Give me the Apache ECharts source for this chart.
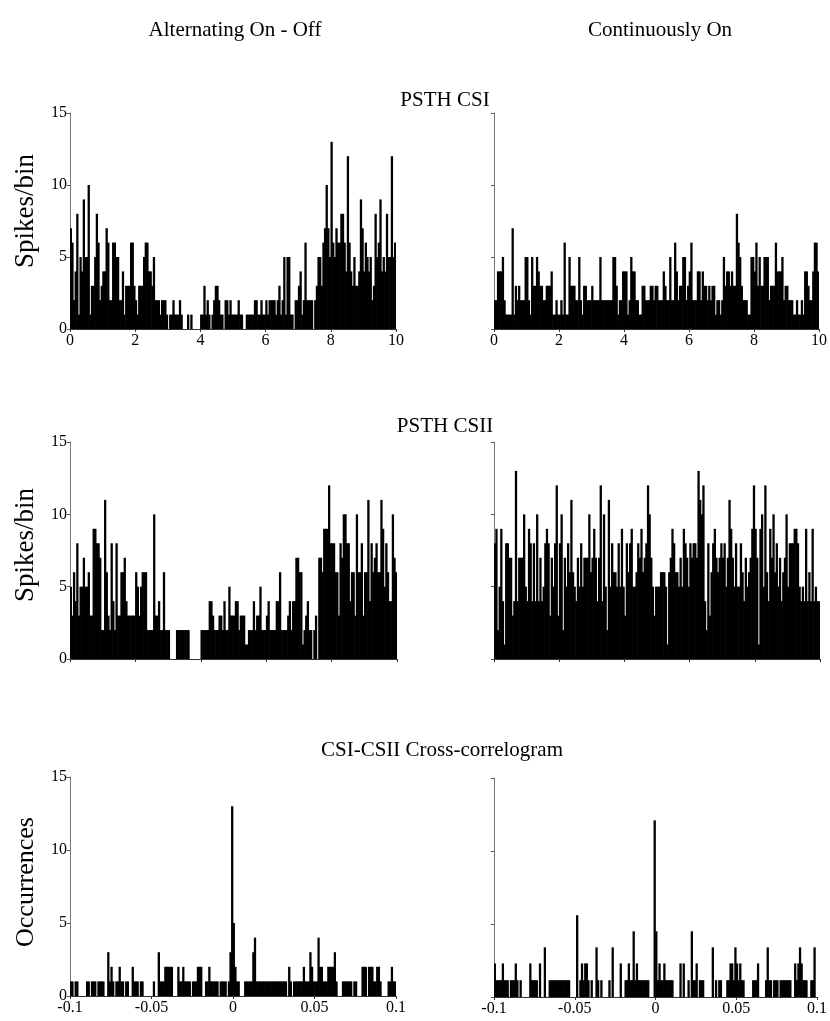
<!DOCTYPE html>
<html><head><meta charset="utf-8">
<script src="https://cdn.jsdelivr.net/npm/echarts@6/dist/echarts.min.js"></script>
<style>html,body{margin:0;padding:0;background:#fff}#c{width:830px;height:1021px}</style>
</head><body><div id="c"></div>
<script>
// Tick labels
const psthTicks = [0, 2, 4, 6, 8, 10];
const ccTicks = [-0.1, -0.05, 0, 0.05, 0.1];
const yTicks = [0, 5, 10, 15];

// PSTH CSI, alternating on-off (200 bins of 0.05 s)
const altCSI = [
 7,6,2,4,8,1,5,4,9,5, 5,10,1,3,3,5,8,6,2,3, 4,4,7,6,2,2,6,6,5,5, 2,2,4,1,3,3,3,6,6,3,
 2,1,3,3,3,5,6,6,4,4, 3,5,2,2,2,1,2,2,2,1, 0,1,1,2,1,1,1,2,1,0, 0,0,1,0,1,0,0,0,0,0,
 1,1,3,1,2,1,0,1,2,3, 3,2,1,1,0,2,2,1,2,1, 1,1,1,2,1,1,0,0,1,1, 1,1,1,2,2,1,1,2,1,1,
 2,1,2,2,2,2,1,2,3,1, 2,5,1,5,5,1,1,0,2,2, 3,4,1,2,6,2,2,2,2,0, 2,3,5,5,3,6,7,10,7,5,
 13,6,5,7,6,6,8,8,6,4, 12,6,4,3,5,3,3,4,9,7, 4,6,5,4,5,2,3,8,5,6, 9,4,5,4,8,5,5,12,5,6
];
// PSTH CSI, continuously on
const contCSI = [
 2,2,4,4,4,5,2,1,1,1, 1,7,1,3,2,3,2,2,2,5, 5,2,1,5,3,3,5,4,3,3, 2,2,3,3,3,4,1,1,2,1,
 1,2,1,6,1,1,5,3,3,3, 2,2,5,2,1,3,3,2,2,2, 3,2,2,2,2,5,2,2,2,2, 2,2,2,5,5,3,1,2,2,4,
 4,4,1,2,5,4,4,2,2,1, 1,3,3,2,2,2,3,3,2,3, 3,2,2,2,4,3,2,2,5,2, 2,6,4,2,3,3,5,5,2,3,
 4,6,2,2,2,4,4,2,4,3, 3,2,3,2,3,3,1,2,2,1, 2,5,3,4,4,3,4,3,3,8, 6,5,3,2,2,2,1,1,5,5,
 4,6,3,5,3,3,5,5,5,2, 3,3,3,6,4,4,4,5,2,3, 3,2,2,2,1,1,2,1,1,2, 1,4,4,3,2,2,4,6,6,4
];
// PSTH CSII, alternating on-off
const altCSII = [
 5,3,6,4,8,3,5,5,7,5, 5,6,3,3,9,9,8,8,7,2, 2,11,6,3,2,8,4,2,8,3, 3,6,6,7,4,3,3,3,3,3,
 6,5,3,5,6,6,6,2,2,2, 2,10,3,3,4,2,2,6,2,2, 2,0,0,0,0,2,2,2,2,2, 2,2,2,0,0,0,0,0,0,0,
 2,2,2,2,2,4,4,3,2,2, 2,3,3,2,4,2,2,5,3,3, 3,4,4,2,3,3,3,1,1,2, 2,2,4,2,3,3,5,2,2,2,
 3,4,2,2,2,2,4,4,6,2, 2,2,2,3,4,2,4,4,7,7, 6,6,1,2,3,4,2,2,0,2, 3,0,7,7,6,9,9,9,12,8,
 8,8,6,6,3,8,7,10,10,8, 8,4,6,6,3,10,6,6,8,3, 6,6,11,4,8,6,7,8,6,6, 11,9,5,8,6,4,4,10,7,6
];
// PSTH CSII, continuously on
const contCSII = [
 8,9,2,5,9,4,1,8,8,7, 7,3,4,13,4,7,7,7,10,5, 4,9,8,4,8,4,10,4,7,4, 5,8,9,8,3,7,5,8,12,3,
 8,10,2,7,5,8,6,11,6,5, 4,7,5,8,5,7,7,7,10,6, 7,9,7,4,7,12,4,10,5,2, 11,5,8,6,6,5,8,5,9,5,
 3,8,6,8,9,5,5,6,8,7, 9,6,7,8,12,10,7,5,3,5, 5,5,6,6,6,5,1,6,7,9, 8,6,6,5,7,5,9,8,7,5,
 8,7,8,8,7,13,11,10,12,4, 2,8,3,6,8,9,7,6,7,8, 7,8,5,7,11,9,7,5,8,5, 5,8,6,4,7,5,6,7,9,12,
 9,7,1,9,10,5,12,6,4,9, 7,10,6,8,5,7,4,6,7,10, 5,8,8,8,9,9,8,5,4,5, 4,9,4,6,4,9,4,5,4,4
];
// CSI-CSII cross-correlogram, alternating (200 bins of 1 ms, -0.1..0.1 s)
const altCC = [
 1,1,0,1,1,0,0,0,0,0, 1,1,0,1,1,1,0,1,1,1, 1,0,0,3,1,2,1,0,1,1, 2,1,1,0,1,1,0,0,2,1,
 1,1,0,1,1,0,0,0,0,0, 0,1,0,0,3,1,1,1,2,2, 2,2,2,0,0,0,2,1,1,2, 1,1,1,1,0,1,1,1,2,2,
 2,0,0,1,1,2,1,1,1,1, 1,0,1,1,1,1,0,1,3,13, 5,2,1,1,0,0,0,1,1,1, 1,1,3,4,1,1,1,1,1,1,
 1,1,1,1,1,1,1,1,1,1, 1,1,1,0,2,1,0,1,1,1, 1,1,1,2,1,1,1,3,2,1, 1,1,4,2,2,1,1,1,2,2,
 2,2,3,1,0,0,0,1,1,1, 1,1,1,0,1,1,0,0,0,2, 2,2,0,2,2,2,1,1,2,2, 1,0,0,0,0,1,1,2,1,1
];
// CSI-CSII cross-correlogram, continuously on
const contCC = [
 2.3,1.15,1.15,1.15,1.15,2.3,1.15,1.15,1.15,0, 1.15,1.15,1.15,2.3,1.15,0,1.15,0,0,0,
 0,0,2.3,1.15,1.15,1.15,1.15,0,2.3,0, 0,3.4,0,0,1.15,1.15,1.15,1.15,1.15,1.15,
 1.15,1.15,1.15,1.15,1.15,1.15,1.15,0,0,0, 0,5.6,0,1.15,2.3,1.15,2.3,2.3,1.15,0,
 1.15,0,0,3.4,1.15,0,1.15,0,0,0, 0,1.15,0,3.4,0,0,0,0,2.3,0,
 0,1.15,1.15,2.3,1.15,1.15,4.5,1.15,2.3,1.15, 1.15,1.15,1.15,1.15,1.15,1.15,0,0,0,12.1,
 4.5,1.15,2.3,1.15,1.15,2.3,1.15,1.15,1.15,1.15, 1.15,0,0,0,0,2.3,0,2.3,0,0,
 1.15,0,4.5,1.15,1.15,2.3,0,1.15,1.15,1.15, 0,0,0,0,0,3.4,0,1.15,0,1.15,
 1.15,0,0,0,1.15,1.15,2.3,2.3,1.15,3.4, 2.3,1.15,2.3,1.15,1.15,0,0,0,0,0,
 1.15,1.15,1.15,2.3,0,0,0,0,1.15,3.4, 1.15,1.15,0,1.15,1.15,1.15,0,1.15,1.15,1.15,
 1.15,1.15,1.15,1.15,0,0,2.3,1.15,2.3,3.4, 2.3,1.15,1.15,1.15,0,0,1.15,1.15,3.4,0
];

const FONT = '"Liberation Serif","Times New Roman",serif';
const grids = [
  {left: 70, top: 113, width: 326, height: 216},
  {left: 494, top: 113, width: 326, height: 216},
  {left: 70, top: 442, width: 327, height: 217},
  {left: 494, top: 442, width: 326, height: 217},
  {left: 70, top: 777, width: 326, height: 219},
  {left: 494, top: 778, width: 325, height: 219}
];
const panels = [
  {data: altCSI, ticks: psthTicks, xLab: true, yLab: true},
  {data: contCSI, ticks: psthTicks, xLab: true, yLab: false},
  {data: altCSII, ticks: psthTicks, xLab: false, yLab: true},
  {data: contCSII, ticks: psthTicks, xLab: false, yLab: false},
  {data: altCC, ticks: ccTicks, xLab: true, yLab: true},
  {data: contCC, ticks: ccTicks, xLab: true, yLab: false}
];

const xAxis = [], yAxis = [], series = [];
panels.forEach((p, i) => {
  const t = p.ticks;
  const interval = Math.round((t[1] - t[0]) * 1e6) / 1e6;
  xAxis.push({
    type: 'category', gridIndex: i, show: false,
    data: p.data.map((_, k) => k), boundaryGap: true
  });
  xAxis.push({
    type: 'value', gridIndex: i, position: 'bottom',
    min: t[0], max: t[t.length - 1], interval: interval,
    axisLine: {show: true, onZero: false, lineStyle: {color: '#333', width: 1}},
    axisTick: {show: true, length: 3, lineStyle: {color: '#333'}},
    splitLine: {show: false},
    axisLabel: {show: p.xLab, color: '#000', fontFamily: FONT, fontSize: 16, margin: 4,
      formatter: v => String(Math.round(v * 1000) / 1000)}
  });
  yAxis.push({
    type: 'value', gridIndex: i, position: 'left',
    min: yTicks[0], max: yTicks[yTicks.length - 1], interval: yTicks[1] - yTicks[0],
    axisLine: {show: true, onZero: false, lineStyle: {color: '#777', width: 1}},
    axisTick: {show: true, length: 3, lineStyle: {color: '#555'}},
    splitLine: {show: false},
    axisLabel: {show: p.yLab, color: '#000', fontFamily: FONT, fontSize: 16, margin: 3}
  });
  series.push({
    type: 'bar', xAxisIndex: 2 * i, yAxisIndex: i, data: p.data,
    barWidth: 2.3, silent: true,
    itemStyle: {color: '#000'}
  });
});

const txt = (s, x, y, size, rot) => ({
  type: 'text', x: x, y: y, rotation: rot || 0,
  style: {text: s, fill: '#000', font: size + 'px ' + FONT, align: 'center', verticalAlign: 'middle'}
});

const chart = echarts.init(document.getElementById('c'), null, {renderer: 'canvas'});
chart.setOption({
  animation: false,
  backgroundColor: '#fff',
  grid: grids,
  xAxis: xAxis,
  yAxis: yAxis,
  series: series,
  graphic: [
    txt('Alternating On - Off', 235, 30, 21),
    txt('Continuously On', 660, 30, 21),
    txt('PSTH CSI', 445, 100, 21),
    txt('PSTH CSII', 445, 426, 21),
    txt('CSI-CSII Cross-correlogram', 442, 750, 21),
    txt('Spikes/bin', 26, 211, 27, Math.PI / 2),
    txt('Spikes/bin', 26, 545, 27, Math.PI / 2),
    txt('Occurrences', 26, 882, 26, Math.PI / 2)
  ]
});
</script></body></html>
